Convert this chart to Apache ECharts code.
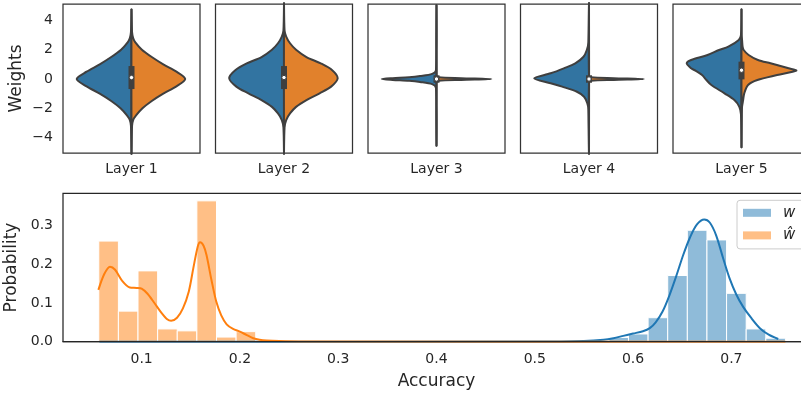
<!DOCTYPE html>
<html>
<head>
<meta charset="utf-8">
<script src="https://cdn.jsdelivr.net/npm/echarts@6/dist/echarts.min.js"></script>
<style>
html, body { margin: 0; padding: 0; background: #fff; }
#main { width: 801px; height: 394px; }
</style>
</head>
<body>
<div id="main"></div>
<script>
// violin layers: y values and relative half widths (1 = full half width)
var layerNames = ['Layer 1', 'Layer 2', 'Layer 3', 'Layer 4', 'Layer 5'];

var y1b = [-5.05, -3.2, -2.8, -2.5, -2.0, -1.5, -1.0, -0.5, 0, 0.5, 1.0, 1.5, 2.0, 2.5, 2.8, 3.2, 4.7];
var blue1 = [0, 0.01, 0.03, 0.08, 0.2, 0.37, 0.58, 0.82, 1.0, 0.82, 0.58, 0.37, 0.19, 0.07, 0.03, 0.01, 0];
var y1o = y1b;
var orange1 = [0, 0.01, 0.03, 0.08, 0.2, 0.37, 0.58, 0.82, 0.98, 0.82, 0.58, 0.37, 0.19, 0.07, 0.03, 0.01, 0];

var y2b = [-5.05, -3.3, -2.8, -2.35, -1.9, -1.44, -0.98, -0.52, 0.05, 0.6, 1.07, 1.5, 2.0, 2.44, 2.9, 3.3, 5.12];
var blue2 = [0, 0.01, 0.04, 0.11, 0.22, 0.41, 0.65, 0.87, 1.0, 0.89, 0.68, 0.41, 0.22, 0.11, 0.04, 0.01, 0];
var y2o = y2b;
var orange2 = [0, 0.01, 0.04, 0.11, 0.22, 0.41, 0.65, 0.86, 0.98, 0.88, 0.67, 0.41, 0.22, 0.11, 0.04, 0.01, 0];

var y3b = [-4.5, -0.6, -0.35, -0.2, -0.12, -0.06, 0, 0.06, 0.12, 0.2, 0.35, 0.6, 5.0];
var blue3 = [0, 0.01, 0.08, 0.3, 0.5, 0.8, 1.0, 0.8, 0.5, 0.3, 0.08, 0.01, 0];
var y3o = [-4.5, -0.25, -0.12, -0.06, 0, 0.06, 0.12, 0.25, 5.0];
var orange3 = [0, 0, 0.04, 0.45, 1.0, 0.45, 0.04, 0, 0];

var y4b = [-5.05, -2.1, -1.66, -1.21, -0.87, -0.52, -0.29, 0.05, 0.39, 0.73, 1.07, 1.52, 1.98, 2.5, 5.12];
var blue4 = [0, 0.01, 0.03, 0.09, 0.22, 0.49, 0.7, 1.0, 0.7, 0.46, 0.25, 0.1, 0.04, 0.01, 0];
var y4o = [-5.05, -0.25, -0.12, -0.06, 0, 0.06, 0.12, 0.25, 5.12];
var orange4 = [0, 0, 0.04, 0.45, 1.0, 0.45, 0.04, 0, 0];

var y5b = [-4.6, -2.4, -1.89, -1.44, -0.98, -0.41, -0.07, 0.27, 0.57, 0.73, 1.07, 1.30, 1.64, 1.98, 2.21, 2.67, 3.0, 4.7];
var blue5 = [0, 0.01, 0.04, 0.13, 0.31, 0.55, 0.64, 0.72, 0.84, 0.92, 1.0, 0.92, 0.62, 0.41, 0.24, 0.05, 0.01, 0];
var y5o = y5b;
var orange5 = [0, 0.005, 0.01, 0.03, 0.05, 0.12, 0.29, 0.65, 1.0, 0.86, 0.53, 0.3, 0.13, 0.04, 0.02, 0.01, 0, 0];

var boxQ1 = [-0.48, -0.48, -0.05, -0.05, 0.18];
var boxQ3 = [0.68, 0.68, 0.05, 0.05, 0.98];
var boxMed = [0.1, 0.1, 0, 0, 0.6];

var weightTicks = [-4, -2, 0, 2, 4];

// accuracy histograms (shared bins) and kde curves
var binStart = 0.0564;
var binWidth = 0.01996;
var wFirstBin = 26;
var wProb = [0.011, 0.020, 0.062, 0.171, 0.288, 0.263, 0.125, 0.033, 0.009];
var wHatFirstBin = 0;
var wHatProb = [0.260, 0.079, 0.183, 0.033, 0.028, 0.364, 0.012, 0.026];

var wKdeX = [0.057, 0.5, 0.55, 0.57, 0.58, 0.59, 0.6, 0.61, 0.617, 0.623, 0.63, 0.637, 0.644, 0.651, 0.658, 0.665, 0.6724,
             0.678, 0.6845, 0.6917, 0.698, 0.705, 0.712, 0.72, 0.729, 0.738, 0.7477];
var wKdeY = [0, 0.0005, 0.002, 0.005, 0.009, 0.015, 0.021, 0.027, 0.035, 0.05, 0.078, 0.12, 0.17, 0.224, 0.27, 0.303, 0.316,
             0.308, 0.275, 0.215, 0.165, 0.122, 0.09, 0.062, 0.035, 0.018, 0.007];
var wHatKdeX = [0.056, 0.062, 0.0678, 0.073, 0.08, 0.088, 0.095, 0.1, 0.106, 0.113, 0.12, 0.126, 0.13, 0.136, 0.142, 0.148,
                0.1526, 0.157, 0.1595, 0.163, 0.166, 0.171, 0.176, 0.181, 0.1865, 0.193, 0.2, 0.207, 0.2136, 0.22, 0.227,
                0.24, 0.26, 0.755];
var wHatKdeY = [0.134, 0.175, 0.194, 0.186, 0.158, 0.14, 0.139, 0.137, 0.124, 0.1, 0.075, 0.058, 0.054, 0.062, 0.086, 0.13,
                0.19, 0.245, 0.257, 0.248, 0.224, 0.16, 0.103, 0.068, 0.045, 0.033, 0.026, 0.017, 0.009, 0.005, 0.003,
                0.0015, 0.0005, 0];

var accTicks = [0.1, 0.2, 0.3, 0.4, 0.5, 0.6, 0.7];
var probTicks = [0, 0.1, 0.2, 0.3];

var violinYBlue = [y1b, y2b, y3b, y4b, y5b];
var violinBlue = [blue1, blue2, blue3, blue4, blue5];
var violinYOrange = [y1o, y2o, y3o, y4o, y5o];
var violinOrange = [orange1, orange2, orange3, orange4, orange5];

var FONT = 'DejaVu Sans';
var TXT = '#262626';
var GRAY = '#3f3f3f';

var chart = echarts.init(document.getElementById('main'));

function violinRender(i) {
    return function (params, api) {
        var left = violinYBlue[i].map(function (y, k) {
            return api.coord([-violinBlue[i][k] * 0.4, y]);
        });
        var right = violinYOrange[i].map(function (y, k) {
            return api.coord([violinOrange[i][k] * 0.4, y]);
        });
        var c3 = api.coord([0, boxQ3[i]]);
        var c1 = api.coord([0, boxQ1[i]]);
        var cm = api.coord([0, boxMed[i]]);
        return {
            type: 'group',
            children: [
                { type: 'polygon', shape: { points: left, smooth: 0.3 },
                  style: { fill: '#3274a1', stroke: GRAY, lineWidth: 2 } },
                { type: 'polygon', shape: { points: right, smooth: 0.3 },
                  style: { fill: '#e1812c', stroke: GRAY, lineWidth: 2 } },
                { type: 'rect', shape: { x: c3[0] - 3, y: c3[1] - 3, width: 6, height: c1[1] - c3[1] + 6 },
                  style: { fill: GRAY } },
                { type: 'circle', shape: { cx: cm[0], cy: cm[1], r: 2.2 },
                  style: { fill: '#fff', stroke: GRAY, lineWidth: 1 } }
            ]
        };
    };
}

function histRender(params, api) {
    var x = api.value(0), h = api.value(1);
    var p0 = api.coord([x, h]);
    var p1 = api.coord([x + binWidth, 0]);
    return {
        type: 'rect',
        shape: { x: p0[0], y: p0[1], width: p1[0] - p0[0], height: p1[1] - p0[1] },
        style: { fill: api.visual('color'), stroke: '#fff', lineWidth: 1 }
    };
}

function histData(first, probs) {
    return probs.map(function (p, k) { return [binStart + (first + k) * binWidth, p]; });
}

function pairs(xs, ys) {
    return xs.map(function (x, k) { return [x, ys[k]]; });
}

function minusFmt(v) {
    return v < 0 ? '\u2212' + (-v) : String(v);
}

var grids = [], xAxes = [], yAxes = [], series = [];

for (var i = 0; i < 5; i++) {
    grids.push({ left: 63 + i * 152.5, top: 4, width: 137, height: 149, outerBoundsMode: 'none',
                 show: true, borderColor: '#333', borderWidth: 1.25, backgroundColor: '#fff' });
    xAxes.push({
        gridIndex: i, type: 'value', min: -0.5, max: 0.5,
        name: layerNames[i], nameLocation: 'middle', nameGap: 9,
        nameTextStyle: { fontFamily: FONT, fontSize: 14, color: TXT },
        axisLine: { show: false }, axisTick: { show: false },
        axisLabel: { show: false }, splitLine: { show: false }
    });
    yAxes.push({
        gridIndex: i, type: 'value', min: -5.05, max: 5.12,
        name: i === 0 ? 'Weights' : '', nameLocation: 'middle', nameGap: 38,
        nameTextStyle: { fontFamily: FONT, fontSize: 17, color: TXT },
        axisLine: { show: false }, axisTick: { show: false }, splitLine: { show: false },
        axisLabel: { show: i === 0, customValues: weightTicks, formatter: minusFmt, margin: 10,
                     fontFamily: FONT, fontSize: 14, color: TXT }
    });
    series.push({
        type: 'custom', xAxisIndex: i, yAxisIndex: i,
        renderItem: violinRender(i), data: [[0, 0]], silent: true
    });
}

// accuracy panel
grids.push({ left: 63, top: 193.3, width: 747, height: 148.4, outerBoundsMode: 'none',
             show: true, borderColor: TXT, borderWidth: 1.25 });
xAxes.push({
    gridIndex: 5, type: 'value', min: 0.02, max: 0.78, z: 10,
    name: 'Accuracy', nameLocation: 'middle', nameGap: 31,
    nameTextStyle: { fontFamily: FONT, fontSize: 17, color: TXT },
    axisLine: { show: true, onZero: false, lineStyle: { color: TXT, width: 1.25 } },
    axisTick: { show: false }, splitLine: { show: false },
    axisLabel: { customValues: accTicks, formatter: function (v) { return v.toFixed(1); },
                 margin: 11, fontFamily: FONT, fontSize: 14, color: TXT }
});
yAxes.push({
    gridIndex: 5, type: 'value', min: 0, max: 0.3835,
    name: 'Probability', nameLocation: 'middle', nameGap: 38,
    nameTextStyle: { fontFamily: FONT, fontSize: 17, color: TXT },
    axisLine: { show: false }, axisTick: { show: false }, splitLine: { show: false },
    axisLabel: { customValues: probTicks, formatter: function (v) { return v.toFixed(1); },
                 margin: 10, fontFamily: FONT, fontSize: 14, color: TXT }
});

series.push({
    name: 'w', type: 'custom', xAxisIndex: 5, yAxisIndex: 5,
    itemStyle: { color: '#8fbbd9' }, renderItem: histRender,
    encode: { x: 0, y: 1 }, data: histData(wFirstBin, wProb), z: 2
});
series.push({
    name: '\u0175', type: 'custom', xAxisIndex: 5, yAxisIndex: 5,
    itemStyle: { color: '#ffbf86' }, renderItem: histRender,
    encode: { x: 0, y: 1 }, data: histData(wHatFirstBin, wHatProb), z: 2
});
series.push({
    name: 'w kde', type: 'line', xAxisIndex: 5, yAxisIndex: 5,
    data: pairs(wKdeX, wKdeY), showSymbol: false, smooth: 0.3,
    lineStyle: { color: '#1f77b4', width: 2 }, itemStyle: { color: '#1f77b4' }, z: 3
});
series.push({
    name: 'w hat kde', type: 'line', xAxisIndex: 5, yAxisIndex: 5,
    data: pairs(wHatKdeX, wHatKdeY), showSymbol: false, smooth: 0.3,
    lineStyle: { color: '#ff7f0e', width: 2 }, itemStyle: { color: '#ff7f0e' }, z: 3
});

chart.setOption({
    animation: false,
    backgroundColor: '#fff',
    grid: grids,
    xAxis: xAxes,
    yAxis: yAxes,
    legend: {
        data: [{ name: 'w', icon: 'rect' }, { name: '\u0175', icon: 'rect' }],
        orient: 'vertical', left: 737, top: 200.3,
        padding: [5, 34, 6, 6], itemWidth: 28, itemHeight: 8, itemGap: 7.6,
        backgroundColor: '#fff', borderColor: '#cccccc', borderWidth: 1, borderRadius: 3,
        selectedMode: false,
        textStyle: { fontFamily: FONT, fontSize: 15, fontStyle: 'italic', color: TXT,
                     lineHeight: 15, padding: [0, 0, 0, 7] }
    },
    series: series
});
</script>
</body>
</html>
